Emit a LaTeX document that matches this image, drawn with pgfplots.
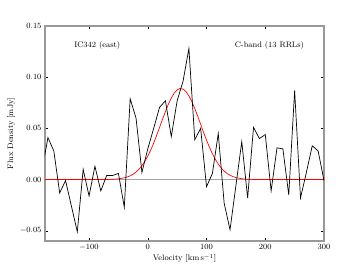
\documentclass[border=0pt]{standalone}
\usepackage{pgfplots}
\pgfplotsset{compat=1.18}
\begin{document}
\begin{tikzpicture}
\useasboundingbox (0,0) rectangle (360bp,270bp);
\begin{axis}[
  at={(45bp,29bp)}, anchor=south west,
  scale only axis, width=279bp, height=215bp,
  xmin=-175, xmax=300, ymin=-0.06, ymax=0.15,
  xtick={-100,0,100,200,300},
  ytick={-0.05,0,0.05,0.10,0.15},
  yticklabel style={/pgf/number format/fixed,/pgf/number format/fixed zerofill,/pgf/number format/precision=2},
  scaled y ticks=false,
  tick align=inside,
  tick pos=both,
  major tick length=3bp,
  axis line style={gray!80, line width=1.2pt},
  tick style={black, line width=0.4pt},
  tick label style={font=\footnotesize},
  label style={font=\footnotesize},
  xlabel={Velocity [km\,s$^{-1}$]},
  ylabel={Flux Density [mJy]},
  xlabel style={yshift=3bp},
  ylabel style={yshift=-2bp},
  clip=true,
]
\addplot[gray!70, line width=0.6pt, forget plot] coordinates {(-175,0) (300,0)};
\addplot[red, line width=0.7pt] coordinates {
(-180,0) (-120,0) (-80,0.0000) (-70,0.0001) (-60,0.00026) (-50,0.00069) (-40,0.00166) (-35,0.00248) (-30,0.00363) (-25,0.00521)
(-20,0.00732) (-15,0.01006) (-10,0.01352) (-5,0.01780) (0,0.02293) (5,0.02890)
(10,0.03564) (15,0.04301) (20,0.05081) (25,0.05873) (30,0.06644) (35,0.07355)
(40,0.07967) (45,0.08446) (50,0.08763) (55,0.08896) (60,0.08839) (65,0.08594)
(70,0.08177) (75,0.07613) (80,0.06937) (85,0.06186) (90,0.05398) (95,0.04609)
(100,0.03852) (105,0.03151) (110,0.02521) (115,0.01975) (120,0.01514) (125,0.01136)
(130,0.00833) (135,0.00598) (140,0.00421) (145,0.00289) (150,0.00195) (160,0.00083)
(170,0.00032) (180,0.0001) (190,0) (300,0)
};
\addplot[black, line width=0.7pt] coordinates {
(-180,0.009) (-170,0.041) (-160,0.028) (-150,-0.013) (-140,-0.001) (-130,-0.026)
(-120,-0.051) (-110,0.010) (-100,-0.016) (-90,0.013) (-80,-0.011) (-70,0.004)
(-60,0.004) (-50,0.006) (-40,-0.027) (-30,0.079) (-20,0.060) (-10,0.007)
(0,0.030) (10,0.050) (20,0.0705) (30,0.077) (40,0.042) (50,0.077)
(60,0.096) (70,0.128) (80,0.039) (90,0.050) (100,-0.007) (110,0.006)
(120,0.045) (130,-0.023) (140,-0.049) (150,-0.006) (160,0.037) (170,-0.018)
(180,0.051) (190,0.040) (200,0.044) (210,-0.011) (220,0.031) (230,0.030)
(240,-0.015) (250,0.087) (260,-0.018) (270,0.007) (280,0.033) (290,0.028)
(300,-0.001)
};
\node[font=\footnotesize] at (axis cs:-86,0.131) {IC342 (east)};
\node[font=\footnotesize] at (axis cs:207,0.131) {C-band (13 RRLs)};
\end{axis}
\end{tikzpicture}
\end{document}
